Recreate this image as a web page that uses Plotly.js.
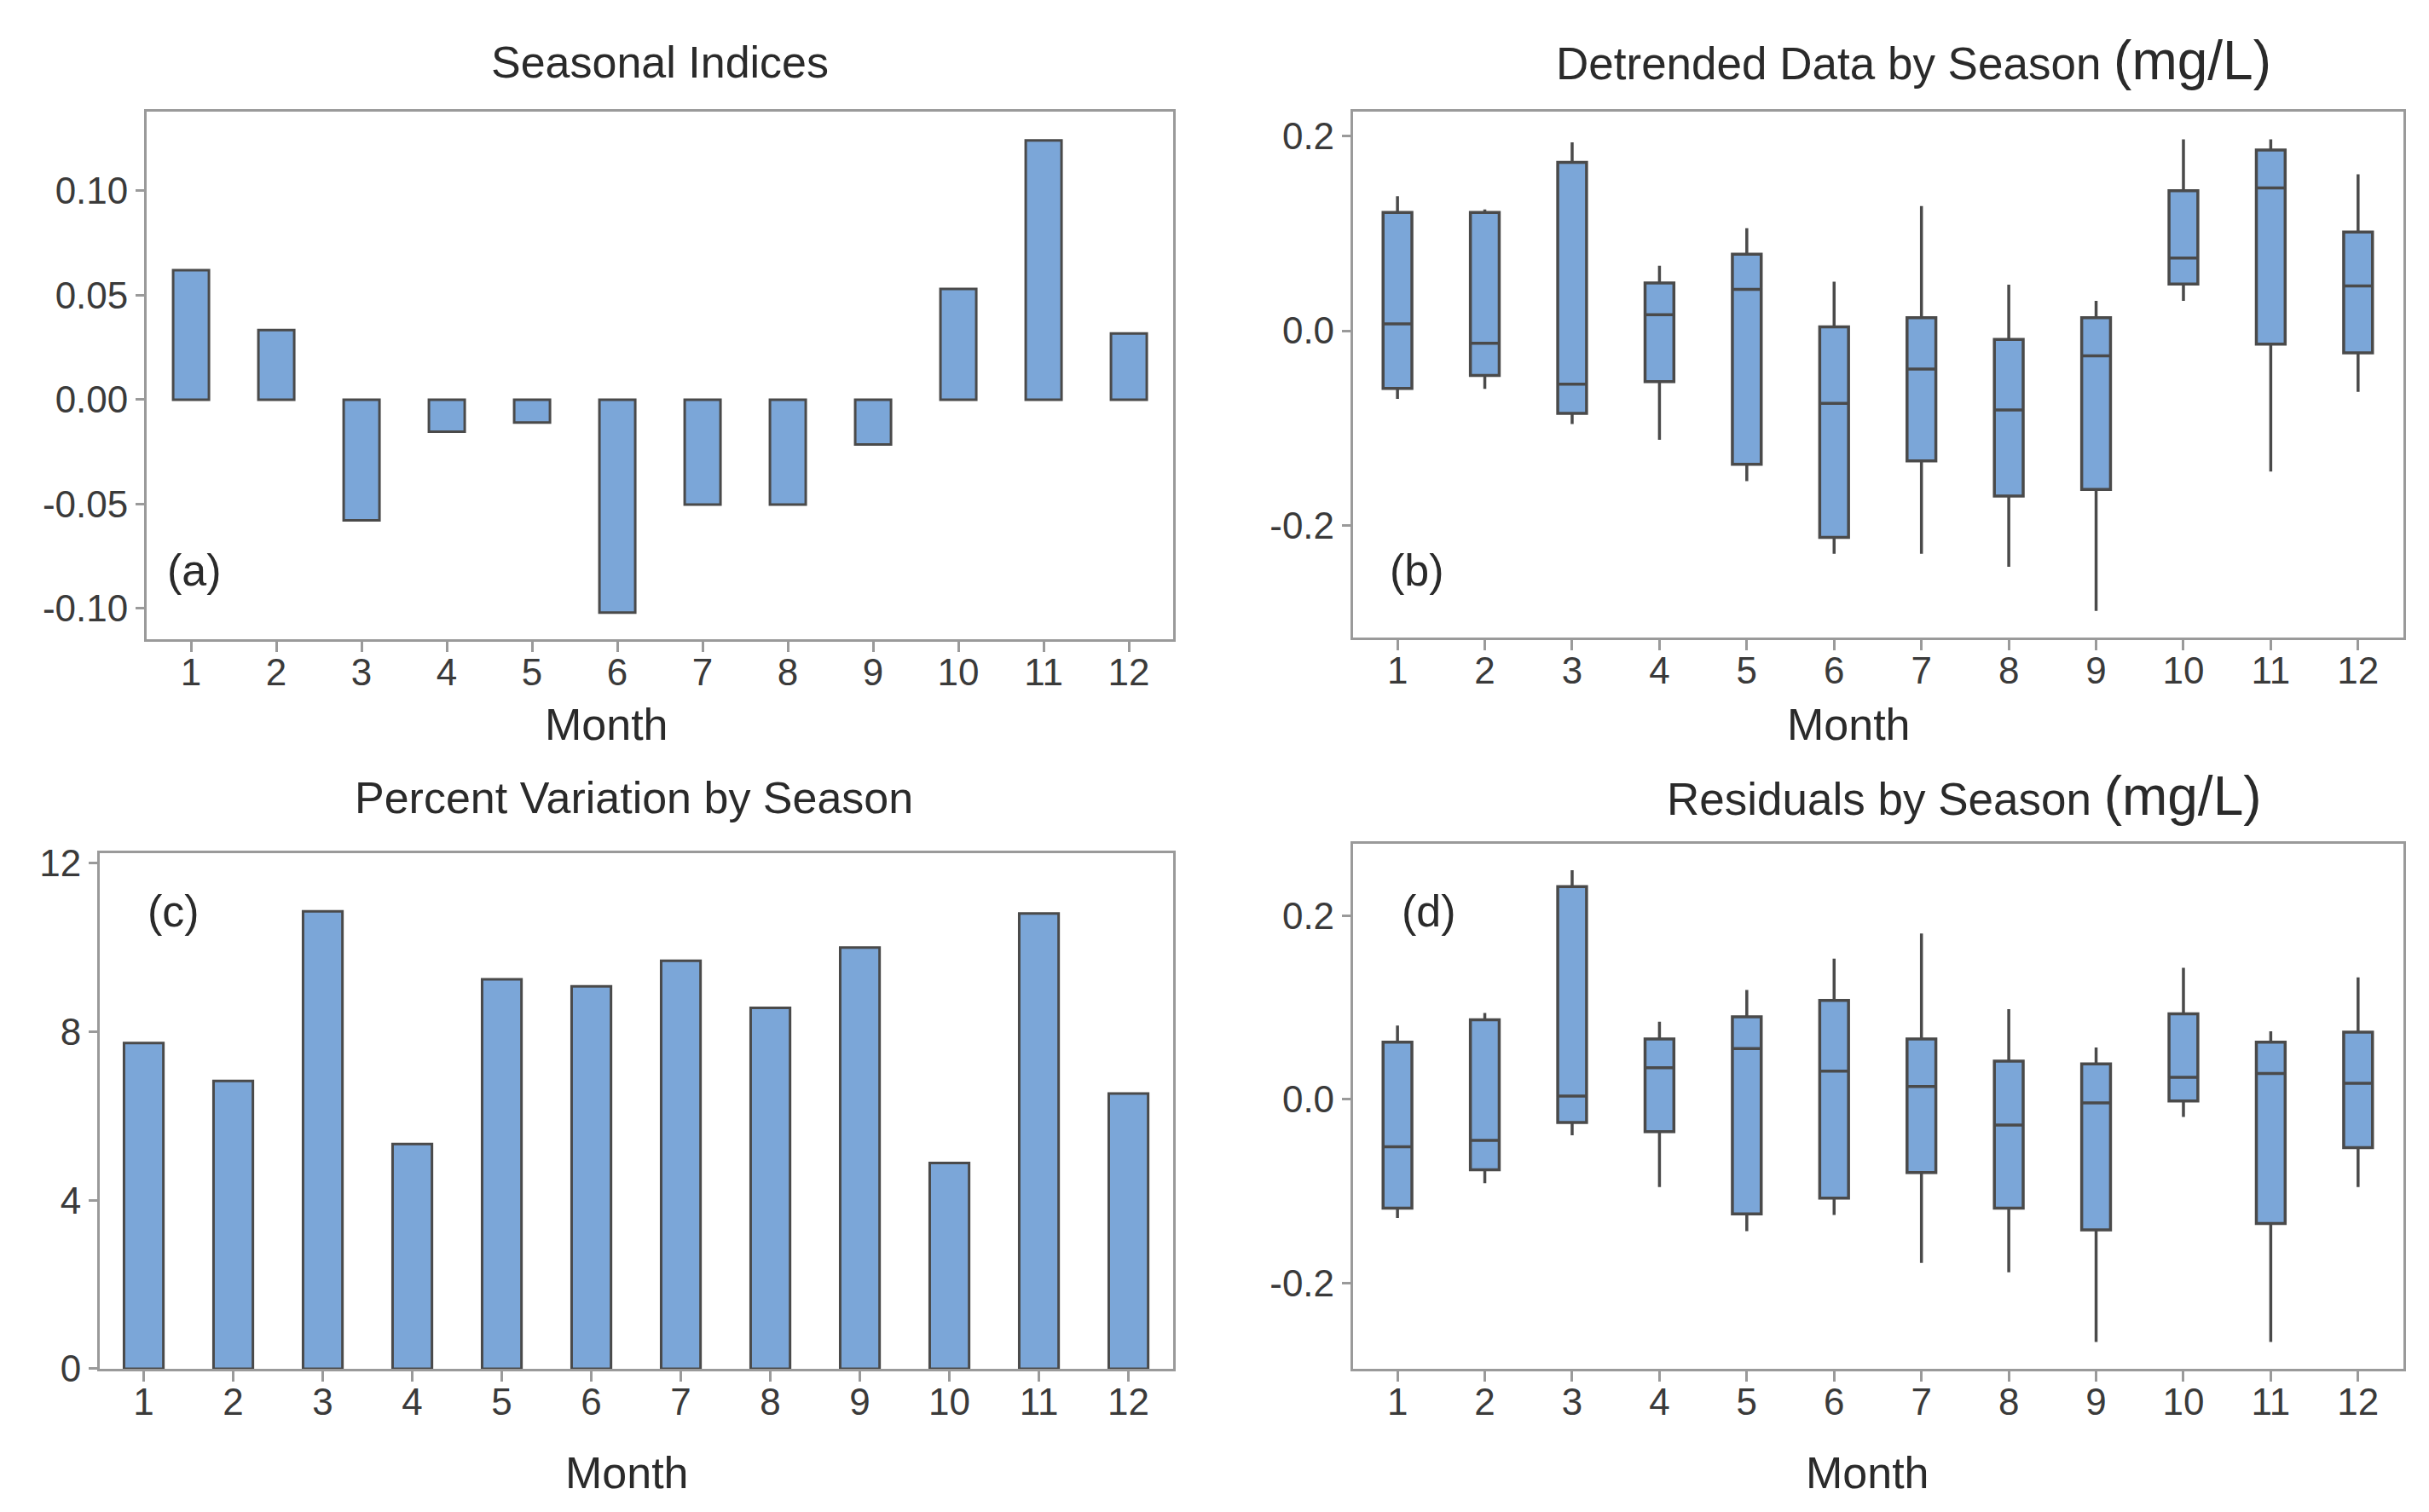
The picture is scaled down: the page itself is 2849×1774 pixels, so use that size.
<!DOCTYPE html>
<html>
<head>
<meta charset="utf-8">
<script src="https://cdn.plot.ly/plotly-3.0.1.min.js"></script>
<style>html,body{margin:0;padding:0;background:#fff;}#chart{width:2849px;height:1774px;}</style>
</head>
<body>
<div id="chart"></div>
<script>
// Months (categories)
const months = [1,2,3,4,5,6,7,8,9,10,11,12];

// (a) Seasonal indices
const seasonalIndex = [0.062, 0.0333, -0.0578, -0.0154, -0.011, -0.102, -0.0503, -0.0503, -0.0215, 0.053, 0.1242, 0.0317];

// (b) Detrended data by season (mg/L): box statistics
const detUpper  = [0.138, 0.1246, 0.1934, 0.0668, 0.1053, 0.0503, 0.1281, 0.0472, 0.0307, 0.1965, 0.1965, 0.1607];
const detQ3     = [0.1214, 0.1214, 0.1729, 0.0491, 0.0786, 0.0039, 0.0134, -0.009, 0.0134, 0.1438, 0.1855, 0.1014];
const detMedian = [0.0071, -0.013, -0.055, 0.0165, 0.0424, -0.0747, -0.0393, -0.0814, -0.0259, 0.0747, 0.1466, 0.046];
const detQ1     = [-0.0593, -0.046, -0.0849, -0.0523, -0.1372, -0.2122, -0.1336, -0.1698, -0.1631, 0.0479, -0.0138, -0.0228];
const detLower  = [-0.07, -0.0597, -0.0959, -0.112, -0.1545, -0.2291, -0.2291, -0.2425, -0.2877, 0.0307, -0.1446, -0.0629];

// (c) Percent variation by season
const pctVariation = [7.73, 6.83, 10.85, 5.33, 9.24, 9.07, 9.68, 8.56, 9.99, 4.88, 10.8, 6.53];

// (d) Residuals by season (mg/L): box statistics
const resUpper  = [0.0803, 0.0941, 0.2493, 0.0845, 0.119, 0.1532, 0.1806, 0.0982, 0.0566, 0.1432, 0.0741, 0.1328];
const resQ3     = [0.0624, 0.0866, 0.2314, 0.0658, 0.0899, 0.1078, 0.0658, 0.0416, 0.0387, 0.0932, 0.0624, 0.0733];
const resMedian = [-0.0516, -0.0445, 0.0037, 0.0345, 0.0554, 0.0308, 0.0142, -0.0279, -0.0037, 0.0241, 0.0283, 0.0175];
const resQ1     = [-0.1182, -0.0766, -0.025, -0.035, -0.1245, -0.1074, -0.0795, -0.1182, -0.1419, -0.0017, -0.1349, -0.0524];
const resLower  = [-0.129, -0.0911, -0.0391, -0.0953, -0.1432, -0.1257, -0.1777, -0.1881, -0.2639, -0.0191, -0.2639, -0.0953];

// Tick labels
const xTickText = months.map(String);
const yTicksA = [-0.10, -0.05, 0.00, 0.05, 0.10];
const yTickTextA = ['-0.10', '-0.05', '0.00', '0.05', '0.10'];
const yTicksB = [-0.2, 0.0, 0.2];
const yTickTextB = ['-0.2', '0.0', '0.2'];
const yTicksC = [0, 4, 8, 12];
const yTickTextC = ['0', '4', '8', '12'];

const FILL = '#7BA6D8';
const EDGE = '#4a4a4a';
const FONT = 'Liberation Sans, Arial, sans-serif';

const traces = [
  {type:'bar', x: months, y: seasonalIndex, base: 0, width: 0.42,
   marker:{color: FILL, line:{color: EDGE, width: 3}}, xaxis:'x', yaxis:'y', hoverinfo:'x+y'},
  {type:'box', x: months, q1: detQ1, median: detMedian, q3: detQ3, lowerfence: detLower, upperfence: detUpper,
   width: 0.33, whiskerwidth: 0, boxpoints: false, fillcolor: FILL, line:{color: EDGE, width: 3.5},
   xaxis:'x2', yaxis:'y2'},
  {type:'bar', x: months, y: pctVariation, width: 0.44,
   marker:{color: FILL, line:{color: EDGE, width: 3}}, xaxis:'x3', yaxis:'y3'},
  {type:'box', x: months, q1: resQ1, median: resMedian, q3: resQ3, lowerfence: resLower, upperfence: resUpper,
   width: 0.33, whiskerwidth: 0, boxpoints: false, fillcolor: FILL, line:{color: EDGE, width: 3.5},
   xaxis:'x4', yaxis:'y4'}
];

function xax(domain, anchor, range){
  return {domain: domain, anchor: anchor, range: range, tickmode:'array', tickvals: months, ticktext: xTickText,
    showline:true, mirror:true, linecolor:'#9a9a9a', linewidth:3, ticks:'outside', ticklen:12, tickwidth:3,
    tickcolor:'#9a9a9a', showgrid:false, zeroline:false, ticklabelstandoff: -14,
    tickfont:{family: FONT, size: 44, color:'#3a3a3a'}};
}
function yax(domain, anchor, range, vals, text){
  return {domain: domain, anchor: anchor, range: range, tickmode:'array', tickvals: vals, ticktext: text,
    showline:true, mirror:true, linecolor:'#9a9a9a', linewidth:3, ticks:'outside', ticklen:10, tickwidth:3,
    tickcolor:'#9a9a9a', showgrid:false, zeroline:false, tickfont:{family: FONT, size: 44, color:'#3a3a3a'}};
}

function ann(text, x, y, size){
  return {text: text, x: x, y: y, xref:'paper', yref:'paper', xanchor:'center', yanchor:'middle',
    showarrow:false, font:{family: FONT, size: size, color:'#2a2a2a'}};
}

const layout = {
  width: 2849, height: 1774,
  margin:{l:0, r:0, t:0, b:0},
  paper_bgcolor:'#fff', plot_bgcolor:'#fff',
  showlegend:false,
  bargap: 0,
  xaxis:  xax([0.0604, 0.4830], 'y',  [0.48, 12.52]),
  yaxis:  yax([0.5772, 0.9262], 'x',  [-0.1148, 0.138], yTicksA, yTickTextA),
  xaxis2: xax([0.5570, 0.9895], 'y2', [0.49, 12.52]),
  yaxis2: yax([0.5784, 0.9262], 'x2', [-0.315, 0.225], yTicksB, yTickTextB),
  xaxis3: xax([0.0411, 0.4830], 'y3', [0.51, 12.5]),
  yaxis3: yax([0.0947, 0.4357], 'x3', [0, 12.23], yTicksC, yTickTextC),
  xaxis4: xax([0.5570, 0.9895], 'y4', [0.49, 12.52]),
  yaxis4: yax([0.0947, 0.4419], 'x4', [-0.293, 0.278], yTicksB, yTickTextB),
  annotations: [
    ann('Seasonal Indices', 0.2717, 0.9588, 52),
    ann('Detrended Data by Season <span style="font-size:64px">(mg/L)</span>', 0.7877, 0.9600, 53),
    ann('Percent Variation by Season', 0.2608, 0.4724, 52),
    ann('Residuals by Season <span style="font-size:64px">(mg/L)</span>', 0.8087, 0.4736, 53),
    ann('Month', 0.2499, 0.5209, 52),
    ann('Month', 0.7613, 0.5209, 52),
    ann('Month', 0.2583, 0.0259, 52),
    ann('Month', 0.7690, 0.0259, 52),
    ann('(a)', 0.0800, 0.6230, 52),
    ann('(b)', 0.5834, 0.6230, 52),
    ann('(c)', 0.0713, 0.3975, 52),
    ann('(d)', 0.5883, 0.3975, 52)
  ]
};

Plotly.newPlot('chart', traces, layout, {displayModeBar:false, staticPlot:true});
</script>
</body>
</html>
